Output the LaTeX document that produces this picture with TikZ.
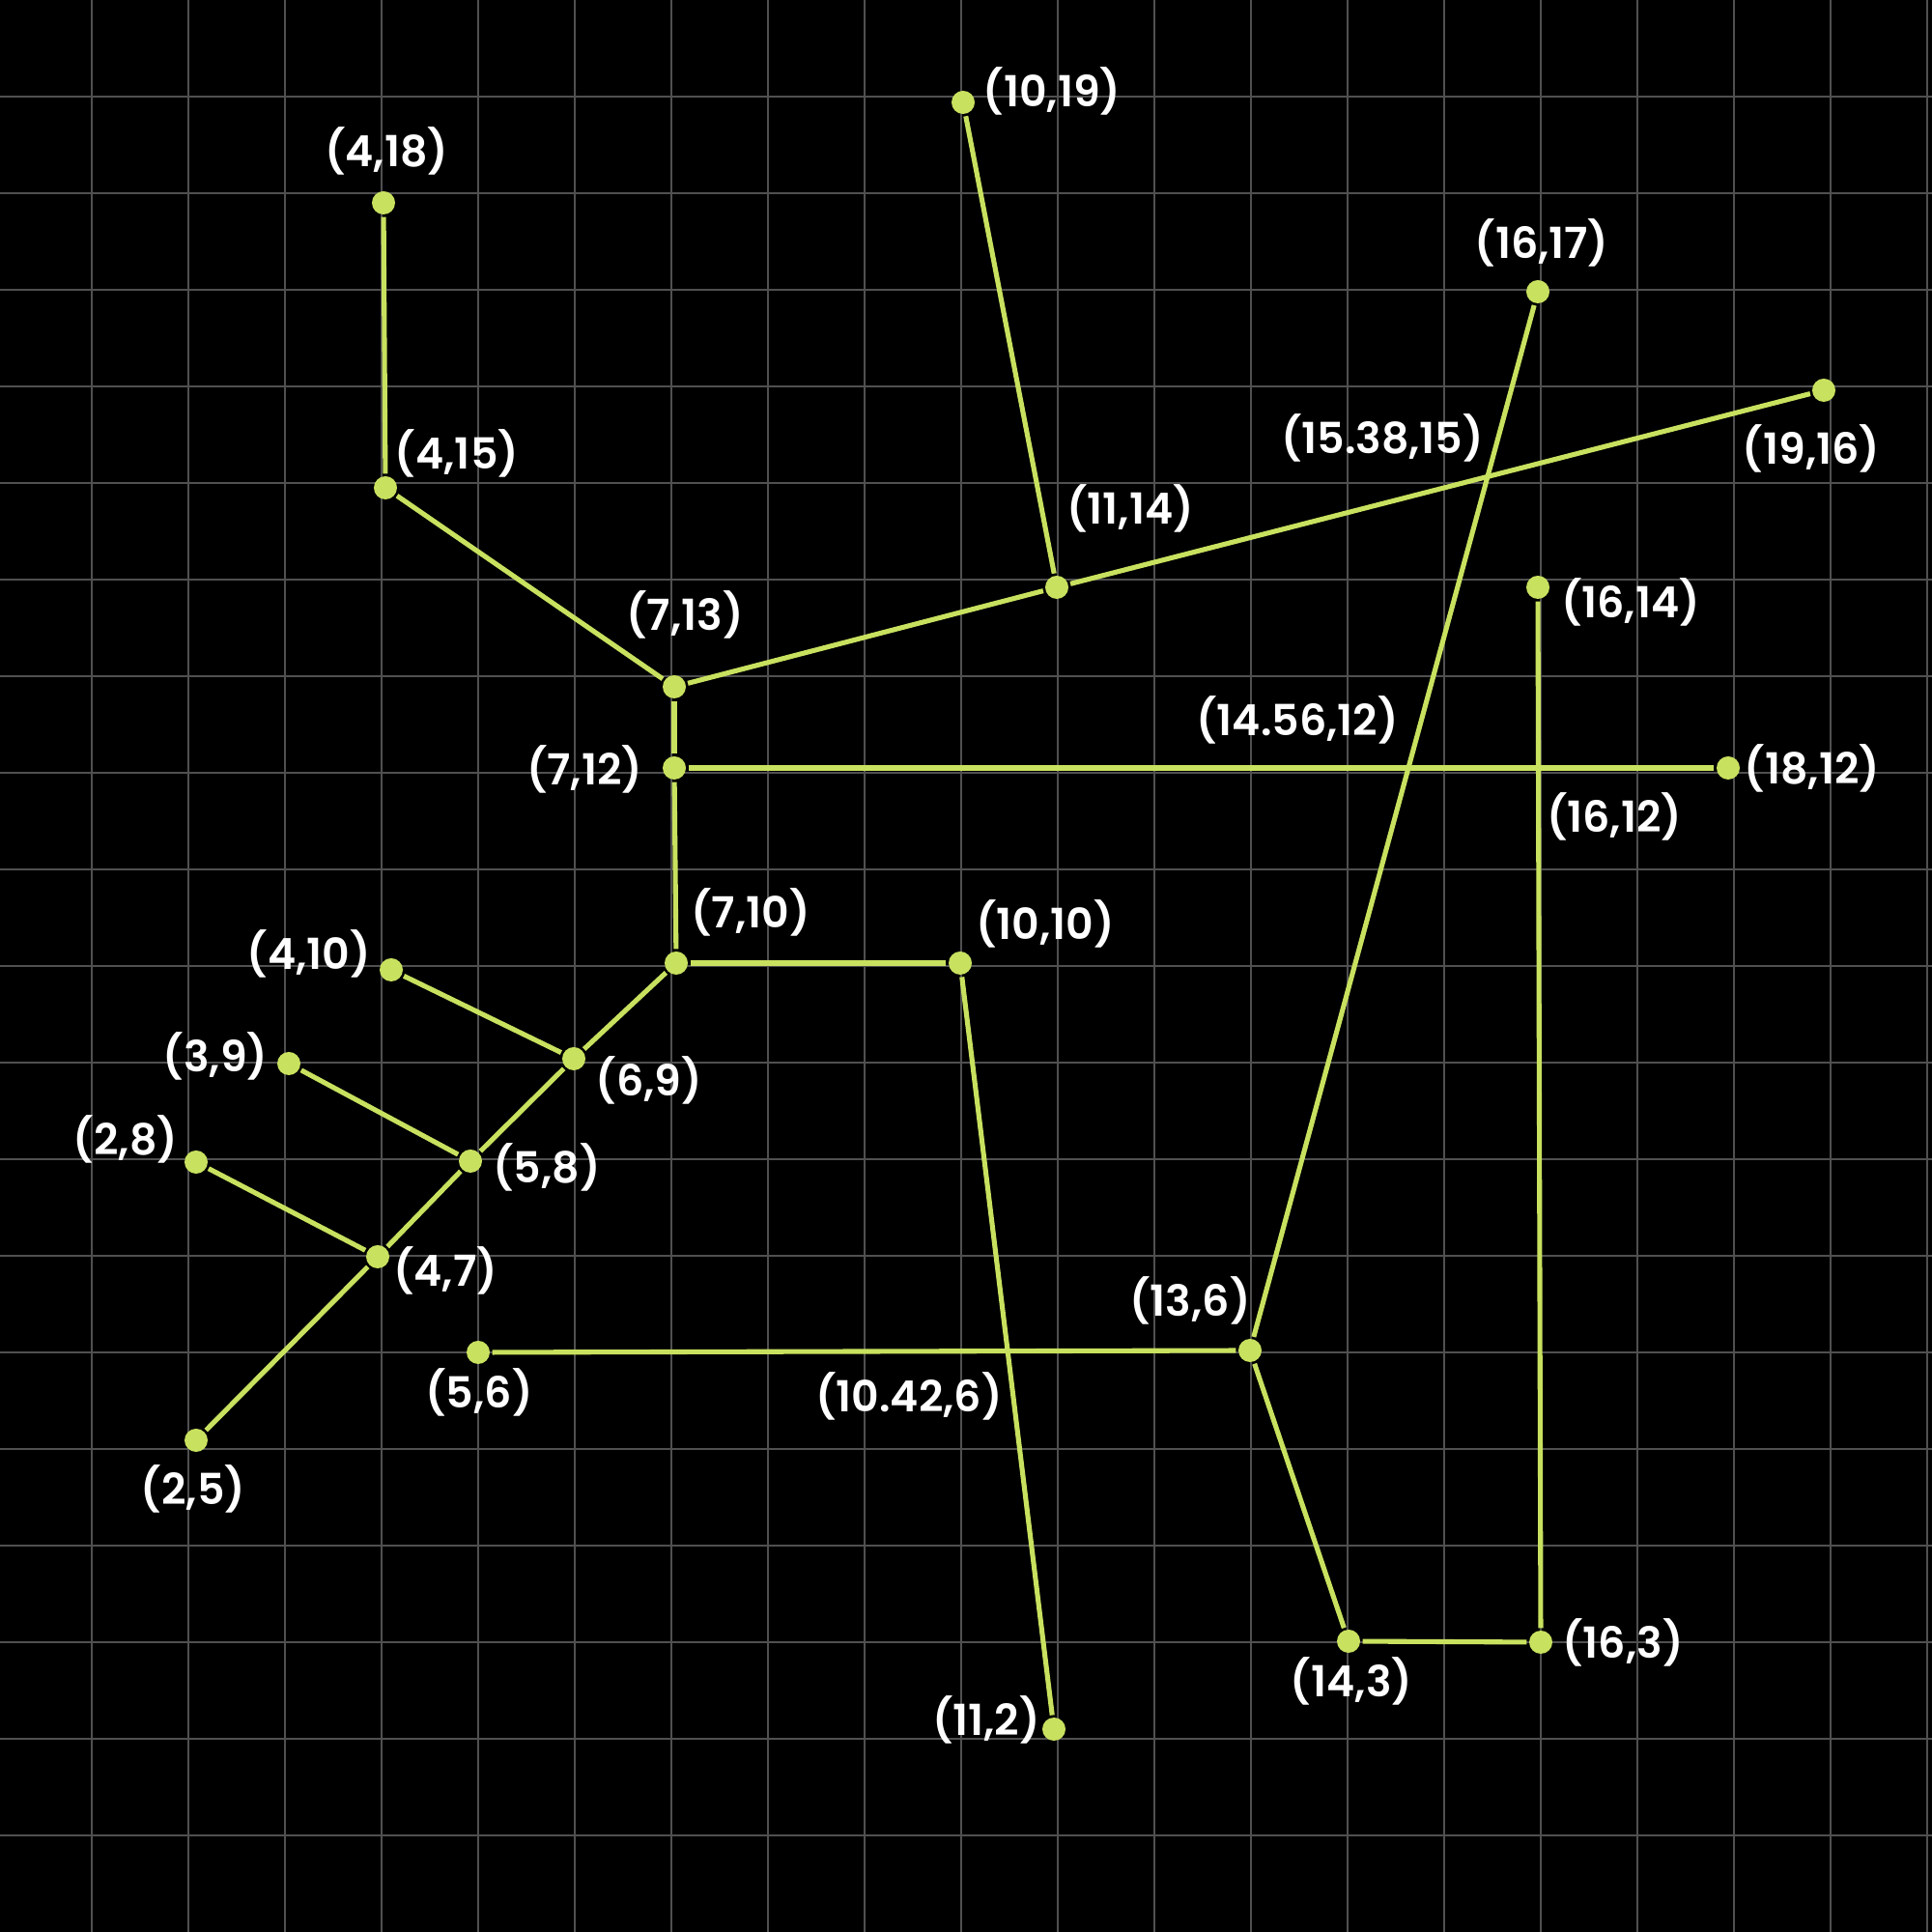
\documentclass[tikz,border=0pt]{standalone}
\usepackage{fontspec}
\setmainfont{Poppins}[BoldFont={Poppins SemiBold}]
\definecolor{lime}{RGB}{200,225,95}
\definecolor{gridgray}{RGB}{80,80,80}
\begin{document}
\begin{tikzpicture}[line width=1.45pt, dot/.style={circle, fill=lime, draw=none, inner sep=0cm, minimum size=0.24cm},
		lbl/.style={text=white, inner sep=0cm, font=\fontsize{12.6}{15}\selectfont\bfseries}]
					\fill[black] (0,0) rectangle (20,20);
					\useasboundingbox (0,0) rectangle (20,20);
					\foreach \x in {0,...,19} \draw[gridgray, line width=0.3pt] (0.95+\x,0) -- (0.95+\x,20);
					\foreach \y in {1,...,19} \draw[gridgray, line width=0.3pt] (0,\y) -- (20,\y);
					
					\node (p4_18) at (3.97,17.90) [dot] {};
					\node (p4_15) at (3.99,14.95) [dot] {};
					\node (p7_13) at (6.98,12.89) [dot] {};
					\node (p7_12) at (6.98,12.05) [dot] {};
					\node (p7_10) at (7.00,10.03) [dot] {};
					\node (p10_10) at (9.94,10.03) [dot] {};
					\node (p10_19) at (9.97,18.94) [dot] {};
					\node (p11_14) at (10.94,13.92) [dot] {};
					\node (p16_17) at (15.92,16.98) [dot] {};
					\node (p19_16) at (18.88,15.96) [dot] {};
					\node (p16_14) at (15.92,13.92) [dot] {};
					\node (p18_12) at (17.89,12.05) [dot] {};
					\node (p4_10) at (4.05,9.96) [dot] {};
					\node (p3_9) at (2.99,8.99) [dot] {};
					\node (p2_8) at (2.03,7.97) [dot] {};
					\node (p6_9) at (5.94,9.04) [dot] {};
					\node (p5_8) at (4.87,7.98) [dot] {};
					\node (p4_7) at (3.91,6.99) [dot] {};
					\node (p2_5) at (2.03,5.09) [dot] {};
					\node (p5_6) at (4.95,6.00) [dot] {};
					\node (p13_6) at (12.94,6.02) [dot] {};
					\node (p14_3) at (13.96,3.01) [dot] {};
					\node (p16_3) at (15.95,3.00) [dot] {};
					\node (p11_2) at (10.91,2.10) [dot] {};
					
					\draw[lime] (p4_18) to (p4_15);
					\draw[lime] (p4_15) to (p7_13);
					\draw[lime] (p7_13) to (p11_14);
					\draw[lime] (p11_14) to (p19_16);
					\draw[lime] (p10_19) to (p11_14);
					\draw[lime] (p7_13) to (p7_12);
					\draw[lime] (p7_12) to (p18_12);
					\draw[lime] (p7_12) to (p7_10);
					\draw[lime] (p7_10) to (p10_10);
					\draw[lime] (p10_10) to (p11_2);
					\draw[lime] (p7_10) to (p6_9);
					\draw[lime] (p6_9) to (p5_8);
					\draw[lime] (p5_8) to (p4_7);
					\draw[lime] (p4_7) to (p2_5);
					\draw[lime] (p4_10) to (p6_9);
					\draw[lime] (p3_9) to (p5_8);
					\draw[lime] (p2_8) to (p4_7);
					\draw[lime] (p5_6) to (p13_6);
					\draw[lime] (p13_6) to (p16_17);
					\draw[lime] (p13_6) to (p14_3);
					\draw[lime] (p14_3) to (p16_3);
					\draw[lime] (p16_3) to (p16_14);
					
					\node (l4_18) at (4.00,18.44) [lbl] {(4,18)};
					\node (l4_15) at (4.73,15.31) [lbl] {(4,15)};
					\node (l10_19) at (10.89,19.06) [lbl] {(10,19)};
					\node (l11_14) at (11.70,14.74) [lbl] {(11,14)};
					\node (l7_13) at (7.09,13.64) [lbl] {(7,13)};
					\node (l7_12) at (6.05,12.04) [lbl] {(7,12)};
					\node (l7_10) at (7.77,10.56) [lbl] {(7,10)};
					\node (l10_10) at (10.82,10.44) [lbl] {(10,10)};
					\node (l6_9) at (6.72,8.82) [lbl] {(6,9)};
					\node (l5_8) at (5.66,7.92) [lbl] {(5,8)};
					\node (l4_10) at (3.20,10.13) [lbl] {(4,10)};
					\node (l3_9) at (2.23,9.07) [lbl] {(3,9)};
					\node (l2_8) at (1.30,8.21) [lbl] {(2,8)};
					\node (l4_7) at (4.61,6.85) [lbl] {(4,7)};
					\node (l2_5) at (2.00,4.59) [lbl] {(2,5)};
					\node (l5_6) at (4.96,5.59) [lbl] {(5,6)};
					\node (l16_17) at (15.96,17.49) [lbl] {(16,17)};
					\node (l19_16) at (18.75,15.36) [lbl] {(19,16)};
					\node (l15_38) at (14.31,15.47) [lbl] {(15.38,15)};
					\node (l16_14) at (16.88,13.77) [lbl] {(16,14)};
					\node (l18_12) at (18.76,12.05) [lbl] {(18,12)};
					\node (l16_12) at (16.71,11.55) [lbl] {(16,12)};
					\node (l14_56) at (13.43,12.55) [lbl] {(14.56,12)};
					\node (l13_6) at (12.32,6.54) [lbl] {(13,6)};
					\node (l14_3) at (13.99,2.60) [lbl] {(14,3)};
					\node (l16_3) at (16.80,3.00) [lbl] {(16,3)};
					\node (l11_2) at (10.21,2.20) [lbl] {(11,2)};
					\node (l10_42) at (9.41,5.55) [lbl] {(10.42,6)};
					
				\end{tikzpicture}
\end{document}
